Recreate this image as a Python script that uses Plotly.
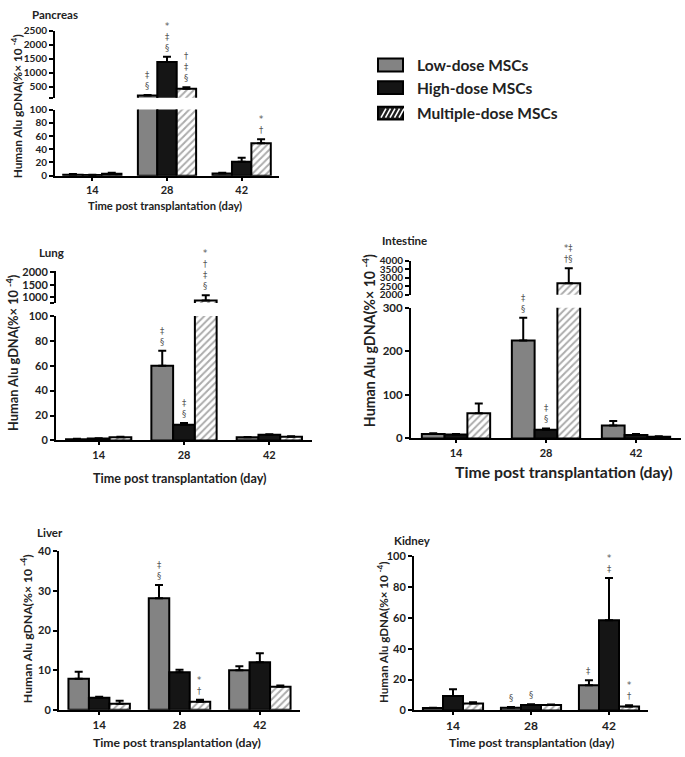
import plotly.graph_objects as go

W, H = 685, 757
FONT = "Lato"
MARK_FONT = "DejaVu Sans"

days = ["14", "28", "42"]
series = ["Low-dose MSCs", "High-dose MSCs", "Multiple-dose MSCs"]

# ---- data (mean, upper error), units: % x 10^-4 ----
pancreas_low = [1.5, 180, 3.5]
pancreas_low_err = [1.0, 20, 1.0]
pancreas_high = [1.0, 1380, 21]
pancreas_high_err = [0.5, 190, 6]
pancreas_multi = [3.0, 420, 49]
pancreas_multi_err = [1.5, 55, 6]

lung_low = [1.0, 60, 2.5]
lung_low_err = [0.3, 12, 0.3]
lung_high = [1.5, 12.5, 4.5]
lung_high_err = [0.3, 1.5, 0.5]
lung_multi = [2.5, 850, 3.0]
lung_multi_err = [0.5, 220, 0.3]

intestine_low = [10, 225, 30]
intestine_low_err = [2, 52, 10]
intestine_high = [9, 20, 8]
intestine_high_err = [1.5, 3, 2]
intestine_multi = [58, 2680, 4]
intestine_multi_err = [22, 880, 1]

liver_low = [7.8, 28.2, 10.0]
liver_low_err = [1.8, 3.3, 1.0]
liver_high = [3.0, 9.5, 12.0]
liver_high_err = [0.3, 0.6, 2.3]
liver_multi = [1.5, 2.0, 5.8]
liver_multi_err = [0.8, 0.5, 0.3]

kidney_low = [1.5, 1.8, 16.4]
kidney_low_err = [0.3, 0.4, 3.2]
kidney_high = [9.4, 3.5, 58.5]
kidney_high_err = [4.4, 0.5, 27.5]
kidney_multi = [4.5, 3.5, 2.5]
kidney_multi_err = [0.8, 0.4, 0.8]

# significance marks: (day index, series index, text)
pancreas_marks = [(1, 0, "‡<br>§"), (1, 1, "*<br>‡<br>§"), (1, 2, "†<br>‡<br>§"), (2, 2, "*<br>†")]
lung_marks = [(1, 0, "‡<br>§"), (1, 1, "‡<br>§"), (1, 2, "*<br>†<br>‡<br>§")]
intestine_marks = [(1, 0, "‡<br>§"), (1, 1, "‡<br>§"), (1, 2, "*‡<br>†§")]
liver_marks = [(1, 0, "‡<br>§"), (1, 2, "*<br>†")]
kidney_marks = [(1, 0, "§"), (1, 1, "§"), (2, 0, "‡"), (2, 1, "*<br>‡"), (2, 2, "*<br>†")]

fills = ["#838383", "#151515", "white"]
patterns = [None, None, dict(shape="/", fgcolor="#5a5a5a", bgcolor="white", size=5, solidity=0.4)]

panels = [
    dict(title="Pancreas", means=[pancreas_low, pancreas_high, pancreas_multi],
         errs=[pancreas_low_err, pancreas_high_err, pancreas_multi_err], marks=pancreas_marks,
         xdom=(55, 279), bw=0.26,
         lower=dict(dom=(104.3, 171.7), rng=[0, 100], ticks=[0, 20, 40, 60, 80, 100]),
         upper=dict(dom=(24.3, 92.3), rng=[100, 2500], ticks=[100, 500, 1000, 1500, 2000, 2500], blank=[100], fs=10),
         yfs=10, xfs=11, title_pos=(30, 8), xt_pos=(165, 202, 11.2), yt_pos=(17, 101, 11.8)),
    dict(title="Lung", means=[lung_low, lung_high, lung_multi],
         errs=[lung_low_err, lung_high_err, lung_multi_err], marks=lung_marks,
         xdom=(56, 312), bw=0.255,
         lower=dict(dom=(314.3, 441), rng=[0, 100], ticks=[0, 20, 40, 60, 80, 100]),
         upper=dict(dom=(268.75, 301.25), rng=[750, 2050], ticks=[750, 1000, 1500, 2000], blank=[750], fs=11),
         yfs=11, xfs=11, title_pos=(37, 250), xt_pos=(180, 480, 12.6), yt_pos=(13, 352, 12.8)),
    dict(title="Intestine", means=[intestine_low, intestine_high, intestine_multi],
         errs=[intestine_low_err, intestine_high_err, intestine_multi_err], marks=intestine_marks,
         xdom=(411, 681), bw=0.253,
         lower=dict(dom=(306, 439), rng=[0, 300], ticks=[0, 100, 200, 300]),
         upper=dict(dom=(258.3, 292.7), rng=[2000, 4000], ticks=[2000, 2500, 3000, 3500, 4000], blank=[], fs=10),
         yfs=11.5, xfs=11, title_pos=(380, 238), xt_pos=(564, 473, 15.8), yt_pos=(368, 340, 14.2)),
    dict(title="Liver", means=[liver_low, liver_high, liver_multi],
         errs=[liver_low_err, liver_high_err, liver_multi_err], marks=liver_marks,
         xdom=(59, 300), bw=0.255,
         lower=dict(dom=(554, 715), rng=[0, 40], ticks=[0, 10, 20, 30, 40]),
         upper=None,
         yfs=11, xfs=11.5, title_pos=(35, 535), xt_pos=(177, 748, 12.2), yt_pos=(27, 633, 12.2)),
    dict(title="Kidney", means=[kidney_low, kidney_high, kidney_multi],
         errs=[kidney_low_err, kidney_high_err, kidney_multi_err], marks=kidney_marks,
         xdom=(414, 648), bw=0.257,
         lower=dict(dom=(559, 715.7), rng=[0, 100], ticks=[0, 20, 40, 60, 80, 100]),
         upper=None,
         yfs=11, xfs=12, title_pos=(392, 543), xt_pos=(531, 748, 12), yt_pos=(382, 637, 11.6)),
]


def fx(px):
    return px / W


def fy(py):
    return 1 - py / H


fig = go.Figure()
layout = {}
annotations = []
shapes = []
counter = [0]


def new_axes(xdom, ydom, rng, ticks, blank, yfs, xfs, show_x):
    counter[0] += 1
    n = counter[0]
    xa = "xaxis" if n == 1 else f"xaxis{n}"
    ya = "yaxis" if n == 1 else f"yaxis{n}"
    xr = "x" if n == 1 else f"x{n}"
    yr = "y" if n == 1 else f"y{n}"
    layout[xa] = dict(domain=[fx(xdom[0]), fx(xdom[1])], anchor=yr, type="category",
                      range=[-0.5, 2.5], visible=show_x, showline=True, linewidth=2,
                      linecolor="black", ticks="outside", ticklen=3, tickwidth=1.5,
                      tickcolor="black", showgrid=False, zeroline=False,
                      tickfont=dict(family=FONT, size=xfs, color="#222", weight="bold"))
    ticktext = [" " if t in blank else str(t) for t in ticks]
    layout[ya] = dict(domain=[fy(ydom[1]), fy(ydom[0])], anchor=xr, range=rng,
                      showline=True, linewidth=2, linecolor="black", ticks="outside",
                      ticklen=4, tickwidth=1.5, tickcolor="black", showgrid=False,
                      zeroline=False, tickvals=ticks, ticktext=ticktext,
                      tickfont=dict(family=FONT, size=yfs, color="#222", weight="bold"))
    return xr, yr


for p in panels:
    segs = []
    lo = p["lower"]
    xr, yr = new_axes(p["xdom"], lo["dom"], lo["rng"], lo["ticks"], [], p["yfs"], p["xfs"], True)
    segs.append((xr, yr, lo["rng"]))
    if p["upper"] is not None:
        up = p["upper"]
        xr2, yr2 = new_axes(p["xdom"], up["dom"], up["rng"], up["ticks"], up["blank"], up["fs"], p["xfs"], False)
        segs.append((xr2, yr2, up["rng"]))
    bw = p["bw"]
    for (sx, sy, rng) in segs:
        for j in range(3):
            marker = dict(color=fills[j], line=dict(color="black", width=2))
            if patterns[j] is not None:
                marker["pattern"] = patterns[j]
            fig.add_trace(go.Bar(
                x=days, y=p["means"][j], width=bw, offset=(j - 1.5) * bw,
                marker=marker, name=series[j], showlegend=False, xaxis=sx, yaxis=sy,
                error_y=dict(type="data", symmetric=False, array=p["errs"][j],
                             arrayminus=[0, 0, 0], color="black", thickness=2, width=4),
            ))
    # significance marks
    for (i, j, txt) in p["marks"]:
        top = p["means"][j][i] + p["errs"][j][i]
        sx, sy, _ = segs[0]
        if len(segs) > 1 and top > segs[0][2][1]:
            sx, sy, _ = segs[1]
        annotations.append(dict(x=i + (j - 1) * bw, y=top, xref=sx, yref=sy, text=txt,
                                showarrow=False, yanchor="bottom", xanchor="center", yshift=2,
                                font=dict(family=MARK_FONT, size=8.5, color="#555555")))
    # panel title
    tx, ty = p["title_pos"]
    annotations.append(dict(x=fx(tx), y=fy(ty), xref="paper", yref="paper", text=p["title"],
                            showarrow=False, xanchor="left", yanchor="middle",
                            font=dict(family=FONT, size=11.5, color="#222", weight="bold")))
    # x title
    cx, cy, fs = p["xt_pos"]
    annotations.append(dict(x=fx(cx), y=fy(cy), xref="paper", yref="paper",
                            text="Time post transplantation (day)", showarrow=False,
                            xanchor="center", yanchor="middle",
                            font=dict(family=FONT, size=fs, color="#222", weight="bold")))
    # y title
    cx, cy, fs = p["yt_pos"]
    annotations.append(dict(x=fx(cx), y=fy(cy), xref="paper", yref="paper",
                            text="Human Alu gDNA(%× 10 <sup>-4</sup>)", showarrow=False,
                            textangle=-90, xanchor="center", yanchor="middle",
                            font=dict(family=FONT, size=fs, color="#222", weight="bold")))

# ---- custom legend ----
leg_rows = [59, 82, 108]
bx0, bx1 = 378, 403
for j, yc in enumerate(leg_rows):
    y0, y1 = yc - 6.5, yc + 6.5
    shapes.append(dict(type="rect", xref="paper", yref="paper", x0=fx(bx0), x1=fx(bx1),
                       y0=fy(y1), y1=fy(y0), fillcolor=fills[j] if j < 2 else "#1e1e1e",
                       line=dict(color="black", width=2)))
    if j == 2:
        for k in range(5):
            xa = bx0 + 3 + k * 4.5
            shapes.append(dict(type="line", xref="paper", yref="paper",
                               x0=fx(xa), y0=fy(y1 - 2), x1=fx(xa + 5), y1=fy(y0 + 2),
                               line=dict(color="white", width=1.6)))
    annotations.append(dict(x=fx(415), y=fy(yc), xref="paper", yref="paper", text=series[j],
                            showarrow=False, xanchor="left", yanchor="middle",
                            font=dict(family=FONT, size=15.5, color="#222", weight="bold")))

fig.update_layout(
    width=W, height=H, autosize=False,
    margin=dict(l=0, r=0, t=0, b=0),
    paper_bgcolor="white", plot_bgcolor="white",
    barmode="overlay", showlegend=False,
    annotations=annotations, shapes=shapes,
    **layout,
)

fig.write_html("out.html", config={"displayModeBar": False},
               post_script="document.body.style.margin='0px';")
